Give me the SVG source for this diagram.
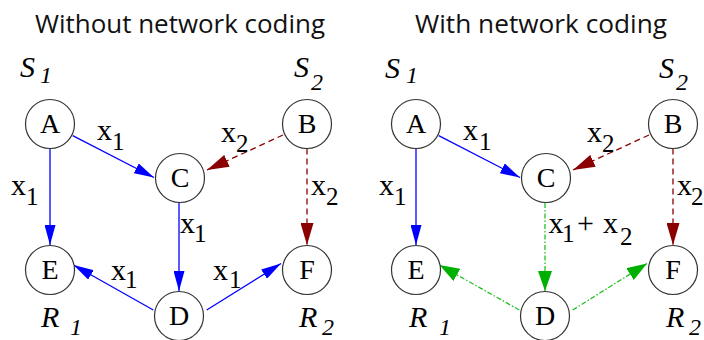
<svg xmlns="http://www.w3.org/2000/svg" width="704" height="340" viewBox="0 0 704 340">
<style>
.title{font-size:25px;fill:#111}
.node circle{fill:#fff;stroke:#333;stroke-width:1.2}
.node text{font-size:28px;fill:#000;text-anchor:middle}
.lbl{font-size:30px;fill:#000}
.sub{font-size:25px}
.it{font-style:italic;font-size:30px;fill:#000}
.it .sub{font-size:24px}
.blue{stroke:#0000ff;stroke-width:1.3;fill:none}
.red{stroke:#8b0000;stroke-width:1.3;fill:none;stroke-dasharray:6,4}
.green{stroke:#22c022;stroke-width:1.3;fill:none;stroke-dasharray:5,2,1.5,2}
</style>
<defs>
<marker id="mb" markerUnits="userSpaceOnUse" markerWidth="21" markerHeight="11" refX="20" refY="5.5" orient="auto"><path d="M0,0 L20,5.5 L0,11 z" fill="#0000ff"/></marker>
<marker id="mr" markerUnits="userSpaceOnUse" markerWidth="23" markerHeight="13" refX="22" refY="6.5" orient="auto"><path d="M0,0 L22,6.5 L0,13 z" fill="#8b0000"/></marker>
<marker id="mg" markerUnits="userSpaceOnUse" markerWidth="21" markerHeight="14" refX="20" refY="7" orient="auto"><path d="M0,0 L20,7 L0,14 z" fill="#00b000"/></marker>
</defs>

<g font-family="'Open Sans', 'Liberation Sans', sans-serif">
<text class="title" x="180" y="33" text-anchor="middle" textLength="290" lengthAdjust="spacingAndGlyphs">Without network coding</text>
<text class="title" x="541" y="33" text-anchor="middle" textLength="252" lengthAdjust="spacingAndGlyphs">With network coding</text>
</g>

<g id="connectors">
  <path class="blue" d="M50,148.5 L50,245" marker-end="url(#mb)"/>
  <path class="blue" d="M72.7,135.7 L154,177.5" marker-end="url(#mb)"/>
  <path class="red" d="M283,135 L207,170" marker-end="url(#mr)"/>
  <path class="red" d="M307,148.5 L307,245" marker-end="url(#mr)"/>
  <path class="blue" d="M179,203 L179,291" marker-end="url(#mb)"/>
  <path class="blue" d="M153.3,310 L73.5,265" marker-end="url(#mb)"/>
  <path class="blue" d="M206.7,310 L281,263.5" marker-end="url(#mb)"/>

  <path class="blue" d="M416,148.5 L416,245" marker-end="url(#mb)"/>
  <path class="blue" d="M438.7,135.7 L520,177.5" marker-end="url(#mb)"/>
  <path class="red" d="M649,135 L573,170" marker-end="url(#mr)"/>
  <path class="red" d="M673,148.5 L673,245" marker-end="url(#mr)"/>
  <path class="green" d="M545,203 L545,291" marker-end="url(#mg)"/>
  <path class="green" d="M519.3,310 L439.5,265" marker-end="url(#mg)"/>
  <path class="green" d="M572.7,310 L647,263.5" marker-end="url(#mg)"/>
</g>

<g font-family="'Liberation Serif', 'Times New Roman', 'DejaVu Serif', serif">
<g id="L-A" class="node"><circle cx="50" cy="124" r="24.5"/><text x="50" y="133">A</text></g>
<g id="L-B" class="node"><circle cx="307" cy="124" r="24.5"/><text x="307" y="133">B</text></g>
<g id="L-C" class="node"><circle cx="180" cy="178" r="24.5"/><text x="180" y="187">C</text></g>
<g id="L-E" class="node"><circle cx="50" cy="270" r="24.5"/><text x="50" y="279">E</text></g>
<g id="L-F" class="node"><circle cx="307" cy="270" r="24.5"/><text x="307" y="279">F</text></g>
<g id="L-D" class="node"><circle cx="179" cy="316" r="24.5"/><text x="179" y="325">D</text></g>

<g id="R-A" class="node"><circle cx="416" cy="124" r="24.5"/><text x="416" y="133">A</text></g>
<g id="R-B" class="node"><circle cx="673" cy="124" r="24.5"/><text x="673" y="133">B</text></g>
<g id="R-C" class="node"><circle cx="546" cy="178" r="24.5"/><text x="546" y="187">C</text></g>
<g id="R-E" class="node"><circle cx="416" cy="270" r="24.5"/><text x="416" y="279">E</text></g>
<g id="R-F" class="node"><circle cx="673" cy="270" r="24.5"/><text x="673" y="279">F</text></g>
<g id="R-D" class="node"><circle cx="545" cy="316" r="24.5"/><text x="545" y="325">D</text></g>

<g id="edge-labels">
  <text class="lbl"><tspan x="97" y="140">x</tspan><tspan class="sub" x="112" y="150">1</tspan></text>
  <text class="lbl"><tspan x="221" y="141.5">x</tspan><tspan class="sub" x="236" y="151.5">2</tspan></text>
  <text class="lbl"><tspan x="11" y="195">x</tspan><tspan class="sub" x="26" y="205">1</tspan></text>
  <text class="lbl"><tspan x="311" y="195">x</tspan><tspan class="sub" x="326" y="205">2</tspan></text>
  <text class="lbl"><tspan x="180" y="233">x</tspan><tspan class="sub" x="194" y="241.5">1</tspan></text>
  <text class="lbl"><tspan x="111" y="280">x</tspan><tspan class="sub" x="125" y="288">1</tspan></text>
  <text class="lbl"><tspan x="213" y="280">x</tspan><tspan class="sub" x="229" y="288">1</tspan></text>

  <text class="lbl"><tspan x="463" y="140">x</tspan><tspan class="sub" x="479" y="150">1</tspan></text>
  <text class="lbl"><tspan x="587" y="141.5">x</tspan><tspan class="sub" x="602" y="151.5">2</tspan></text>
  <text class="lbl"><tspan x="379" y="195">x</tspan><tspan class="sub" x="394" y="205">1</tspan></text>
  <text class="lbl"><tspan x="677" y="195">x</tspan><tspan class="sub" x="691" y="205">2</tspan></text>
  <text class="lbl"><tspan x="548.5" y="233">x</tspan><tspan class="sub" x="562" y="241.5">1</tspan><tspan x="577" y="233">+</tspan><tspan x="603" y="233">x</tspan><tspan class="sub" x="620" y="245">2</tspan></text>
</g>

<g id="role-labels">
  <text class="it"><tspan x="20" y="77">S</tspan><tspan class="sub" x="40" y="83">1</tspan></text>
  <text class="it"><tspan x="294" y="77">S</tspan><tspan class="sub" x="311" y="90">2</tspan></text>
  <text class="it"><tspan x="385" y="78">S</tspan><tspan class="sub" x="406" y="83">1</tspan></text>
  <text class="it"><tspan x="659" y="78">S</tspan><tspan class="sub" x="676" y="90">2</tspan></text>
  <text class="it"><tspan x="41" y="327">R</tspan><tspan class="sub" x="70" y="335">1</tspan></text>
  <text class="it"><tspan x="299" y="327">R</tspan><tspan class="sub" x="322" y="335">2</tspan></text>
  <text class="it"><tspan x="409" y="327">R</tspan><tspan class="sub" x="439" y="335">1</tspan></text>
  <text class="it"><tspan x="666" y="327">R</tspan><tspan class="sub" x="689" y="335">2</tspan></text>
</g>
</g>
</svg>
